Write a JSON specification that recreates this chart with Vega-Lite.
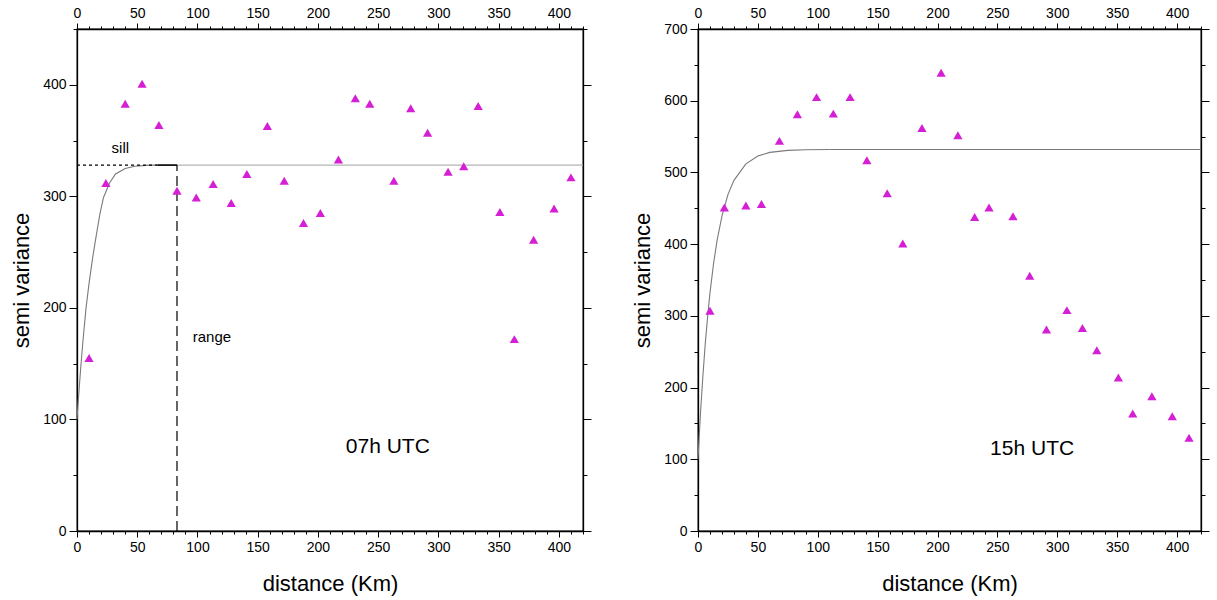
{
  "$schema": "https://vega.github.io/schema/vega-lite/v6.json",
  "background": "white",
  "padding": {"left": 9, "top": 5, "right": 5, "bottom": 5},
  "bounds": "flush",
  "spacing": 115,
  "datasets": {
    "pts": [
      {"panel": "07h UTC", "distance": 10, "gamma": 155},
      {"panel": "07h UTC", "distance": 24, "gamma": 312},
      {"panel": "07h UTC", "distance": 40, "gamma": 383},
      {"panel": "07h UTC", "distance": 54, "gamma": 401},
      {"panel": "07h UTC", "distance": 68, "gamma": 364},
      {"panel": "07h UTC", "distance": 83, "gamma": 305},
      {"panel": "07h UTC", "distance": 99, "gamma": 299},
      {"panel": "07h UTC", "distance": 113, "gamma": 311},
      {"panel": "07h UTC", "distance": 128, "gamma": 294},
      {"panel": "07h UTC", "distance": 141, "gamma": 320},
      {"panel": "07h UTC", "distance": 158, "gamma": 363},
      {"panel": "07h UTC", "distance": 172, "gamma": 314},
      {"panel": "07h UTC", "distance": 188, "gamma": 276},
      {"panel": "07h UTC", "distance": 202, "gamma": 285},
      {"panel": "07h UTC", "distance": 217, "gamma": 333},
      {"panel": "07h UTC", "distance": 231, "gamma": 388},
      {"panel": "07h UTC", "distance": 243, "gamma": 383},
      {"panel": "07h UTC", "distance": 263, "gamma": 314},
      {"panel": "07h UTC", "distance": 277, "gamma": 379},
      {"panel": "07h UTC", "distance": 291, "gamma": 357},
      {"panel": "07h UTC", "distance": 308, "gamma": 322},
      {"panel": "07h UTC", "distance": 321, "gamma": 327},
      {"panel": "07h UTC", "distance": 333, "gamma": 381},
      {"panel": "07h UTC", "distance": 351, "gamma": 286},
      {"panel": "07h UTC", "distance": 363, "gamma": 172},
      {"panel": "07h UTC", "distance": 379, "gamma": 261},
      {"panel": "07h UTC", "distance": 396, "gamma": 289},
      {"panel": "07h UTC", "distance": 410, "gamma": 317},
      {"panel": "15h UTC", "distance": 10, "gamma": 307},
      {"panel": "15h UTC", "distance": 22, "gamma": 451},
      {"panel": "15h UTC", "distance": 40, "gamma": 454},
      {"panel": "15h UTC", "distance": 53, "gamma": 456},
      {"panel": "15h UTC", "distance": 68, "gamma": 544},
      {"panel": "15h UTC", "distance": 83, "gamma": 581},
      {"panel": "15h UTC", "distance": 99, "gamma": 605},
      {"panel": "15h UTC", "distance": 113, "gamma": 582},
      {"panel": "15h UTC", "distance": 127, "gamma": 605},
      {"panel": "15h UTC", "distance": 141, "gamma": 517},
      {"panel": "15h UTC", "distance": 158, "gamma": 471},
      {"panel": "15h UTC", "distance": 171, "gamma": 401},
      {"panel": "15h UTC", "distance": 187, "gamma": 562},
      {"panel": "15h UTC", "distance": 203, "gamma": 639},
      {"panel": "15h UTC", "distance": 217, "gamma": 552},
      {"panel": "15h UTC", "distance": 231, "gamma": 438},
      {"panel": "15h UTC", "distance": 243, "gamma": 451},
      {"panel": "15h UTC", "distance": 263, "gamma": 439},
      {"panel": "15h UTC", "distance": 277, "gamma": 356},
      {"panel": "15h UTC", "distance": 291, "gamma": 281},
      {"panel": "15h UTC", "distance": 308, "gamma": 308},
      {"panel": "15h UTC", "distance": 321, "gamma": 283},
      {"panel": "15h UTC", "distance": 333, "gamma": 252},
      {"panel": "15h UTC", "distance": 351, "gamma": 214},
      {"panel": "15h UTC", "distance": 363, "gamma": 164},
      {"panel": "15h UTC", "distance": 379, "gamma": 188},
      {"panel": "15h UTC", "distance": 396, "gamma": 160},
      {"panel": "15h UTC", "distance": 410, "gamma": 130}
    ],
    "curve": [
      {"panel": "07h UTC", "part": "rise", "distance": 0, "gamma": 100},
      {"panel": "07h UTC", "part": "rise", "distance": 1, "gamma": 116},
      {"panel": "07h UTC", "part": "rise", "distance": 3, "gamma": 145},
      {"panel": "07h UTC", "part": "rise", "distance": 5, "gamma": 171},
      {"panel": "07h UTC", "part": "rise", "distance": 7.5, "gamma": 200},
      {"panel": "07h UTC", "part": "rise", "distance": 10, "gamma": 222},
      {"panel": "07h UTC", "part": "rise", "distance": 13, "gamma": 245},
      {"panel": "07h UTC", "part": "rise", "distance": 16, "gamma": 265},
      {"panel": "07h UTC", "part": "rise", "distance": 19, "gamma": 284},
      {"panel": "07h UTC", "part": "rise", "distance": 22, "gamma": 299},
      {"panel": "07h UTC", "part": "rise", "distance": 27, "gamma": 312},
      {"panel": "07h UTC", "part": "rise", "distance": 32, "gamma": 320},
      {"panel": "07h UTC", "part": "rise", "distance": 40, "gamma": 325},
      {"panel": "07h UTC", "part": "rise", "distance": 48, "gamma": 327},
      {"panel": "07h UTC", "part": "rise", "distance": 60, "gamma": 328},
      {"panel": "07h UTC", "part": "rise", "distance": 83, "gamma": 328},
      {"panel": "07h UTC", "part": "flat", "distance": 83, "gamma": 328},
      {"panel": "07h UTC", "part": "flat", "distance": 420, "gamma": 328},
      {"panel": "15h UTC", "part": "rise", "distance": 0, "gamma": 100},
      {"panel": "15h UTC", "part": "rise", "distance": 2, "gamma": 162},
      {"panel": "15h UTC", "part": "rise", "distance": 4, "gamma": 214},
      {"panel": "15h UTC", "part": "rise", "distance": 6, "gamma": 260},
      {"panel": "15h UTC", "part": "rise", "distance": 8, "gamma": 298},
      {"panel": "15h UTC", "part": "rise", "distance": 10, "gamma": 332},
      {"panel": "15h UTC", "part": "rise", "distance": 13, "gamma": 373},
      {"panel": "15h UTC", "part": "rise", "distance": 16, "gamma": 406},
      {"panel": "15h UTC", "part": "rise", "distance": 20, "gamma": 439},
      {"panel": "15h UTC", "part": "rise", "distance": 25, "gamma": 469},
      {"panel": "15h UTC", "part": "rise", "distance": 30, "gamma": 489},
      {"panel": "15h UTC", "part": "rise", "distance": 40, "gamma": 512},
      {"panel": "15h UTC", "part": "rise", "distance": 50, "gamma": 523},
      {"panel": "15h UTC", "part": "rise", "distance": 60, "gamma": 528},
      {"panel": "15h UTC", "part": "rise", "distance": 75, "gamma": 530.7},
      {"panel": "15h UTC", "part": "rise", "distance": 90, "gamma": 531.6},
      {"panel": "15h UTC", "part": "rise", "distance": 110, "gamma": 532},
      {"panel": "15h UTC", "part": "flat", "distance": 110, "gamma": 532},
      {"panel": "15h UTC", "part": "flat", "distance": 420, "gamma": 532}
    ],
    "guides": [
      {"panel": "07h UTC", "kind": "sill", "x1": 0, "x2": 67, "y1": 328, "y2": 328},
      {"panel": "07h UTC", "kind": "sillend", "x1": 67, "x2": 83, "y1": 328, "y2": 328},
      {"panel": "07h UTC", "kind": "range", "x1": 83, "x2": 83, "y1": 0, "y2": 328}
    ],
    "labels": [
      {"panel": "07h UTC", "kind": "note", "text": "sill", "distance": 36, "gamma": 343},
      {"panel": "07h UTC", "kind": "note", "text": "range", "distance": 112, "gamma": 174},
      {"panel": "07h UTC", "kind": "title", "text": "07h UTC", "distance": 258, "gamma": 75},
      {"panel": "15h UTC", "kind": "title", "text": "15h UTC", "distance": 279, "gamma": 114}
    ]
  },
  "config": {
    "font": "Liberation Sans",
    "view": {"stroke": "#000", "strokeWidth": 1.3},
    "axis": {
      "grid": false,
      "domainColor": "#000",
      "domainWidth": 1.3,
      "tickColor": "#000",
      "tickWidth": 1,
      "tickSize": 6,
      "labelFont": "Liberation Sans",
      "labelFontSize": 14,
      "labelColor": "#000",
      "labelPadding": 3,
      "labelFlush": false,
      "labelOverlap": false,
      "titleFont": "Liberation Sans",
      "titleFontSize": 22,
      "titleFontWeight": "normal",
      "titleColor": "#000"
    },
    "axisY": {"tickSize": 8}
  },
  "hconcat": [
    {
      "width": 506,
      "height": 502,
      "resolve": {"axis": {"x": "independent", "y": "independent"}},
      "layer": [
        {
          "data": {"name": "curve"},
          "transform": [{"filter": "datum.panel === '07h UTC' && datum.part === 'rise'"}],
          "mark": {"type": "line", "color": "#7a7a7a", "strokeWidth": 1.1},
          "encoding": {
            "x": {"field": "distance", "type": "quantitative", "scale": {"domain": [0, 420], "nice": false}, "axis": {"orient": "top", "title": null, "values": [0, 50, 100, 150, 200, 250, 300, 350, 400]}},
            "y": {"field": "gamma", "type": "quantitative", "scale": {"domain": [0, 450], "nice": false}, "axis": {"orient": "right", "title": null, "labels": false, "values": [0, 100, 200, 300, 400]}}
          }
        },
        {
          "data": {"name": "curve"},
          "transform": [{"filter": "datum.panel === '07h UTC' && datum.part === 'flat'"}],
          "mark": {"type": "line", "color": "#b4b4b4", "strokeWidth": 1.1},
          "encoding": {
            "x": {"field": "distance", "type": "quantitative", "scale": {"domain": [0, 420], "nice": false}, "axis": {"orient": "top", "title": null, "labels": false, "domain": false, "tickSize": 3, "values": [10, 20, 30, 40, 60, 70, 80, 90, 110, 120, 130, 140, 160, 170, 180, 190, 210, 220, 230, 240, 260, 270, 280, 290, 310, 320, 330, 340, 360, 370, 380, 390, 410, 420]}},
            "y": {"field": "gamma", "type": "quantitative", "scale": {"domain": [0, 450], "nice": false}, "axis": {"orient": "right", "title": null, "labels": false, "domain": false, "tickSize": 4, "values": [50, 150, 250, 350, 450]}}
          }
        },
        {
          "data": {"name": "guides"},
          "transform": [{"filter": "datum.kind === 'sill'"}],
          "mark": {"type": "rule", "color": "#000", "strokeWidth": 1.2, "strokeDash": [3, 3]},
          "encoding": {
            "x": {"field": "x1", "type": "quantitative", "scale": {"domain": [0, 420], "nice": false}, "axis": {"orient": "bottom", "title": null, "labels": false, "domain": false, "tickSize": 3, "values": [10, 20, 30, 40, 60, 70, 80, 90, 110, 120, 130, 140, 160, 170, 180, 190, 210, 220, 230, 240, 260, 270, 280, 290, 310, 320, 330, 340, 360, 370, 380, 390, 410, 420]}},
            "x2": {"field": "x2"},
            "y": {"field": "y1", "type": "quantitative", "scale": {"domain": [0, 450], "nice": false}, "axis": {"orient": "left", "title": null, "labels": false, "domain": false, "tickSize": 4, "values": [50, 150, 250, 350, 450]}},
            "y2": {"field": "y2"}
          }
        },
        {
          "data": {"name": "guides"},
          "transform": [{"filter": "datum.kind === 'sillend'"}],
          "mark": {"type": "rule", "color": "#000", "strokeWidth": 1.5},
          "encoding": {
            "x": {"field": "x1", "type": "quantitative", "scale": {"domain": [0, 420], "nice": false}, "axis": null},
            "x2": {"field": "x2"},
            "y": {"field": "y1", "type": "quantitative", "scale": {"domain": [0, 450], "nice": false}, "axis": null},
            "y2": {"field": "y2"}
          }
        },
        {
          "data": {"name": "guides"},
          "transform": [{"filter": "datum.kind === 'range'"}],
          "mark": {"type": "rule", "color": "#000", "strokeWidth": 1.2, "strokeDash": [10, 5]},
          "encoding": {
            "x": {"field": "x1", "type": "quantitative", "scale": {"domain": [0, 420], "nice": false}, "axis": null},
            "x2": {"field": "x2"},
            "y": {"field": "y1", "type": "quantitative", "scale": {"domain": [0, 450], "nice": false}, "axis": null},
            "y2": {"field": "y2"}
          }
        },
        {
          "data": {"name": "pts"},
          "transform": [{"filter": "datum.panel === '07h UTC'"}],
          "mark": {"type": "point", "shape": "triangle-up", "filled": true, "color": "#d41fd4", "opacity": 1, "size": 85},
          "encoding": {
            "x": {"field": "distance", "type": "quantitative", "scale": {"domain": [0, 420], "nice": false}, "axis": {"orient": "bottom", "title": "distance (Km)", "titlePadding": 19, "values": [0, 50, 100, 150, 200, 250, 300, 350, 400]}},
            "y": {"field": "gamma", "type": "quantitative", "scale": {"domain": [0, 450], "nice": false}, "axis": {"orient": "left", "title": "semi variance", "titlePadding": 9, "values": [0, 100, 200, 300, 400]}}
          }
        },
        {
          "data": {"name": "labels"},
          "transform": [{"filter": "datum.panel === '07h UTC' && datum.kind === 'note'"}],
          "mark": {"type": "text", "fontSize": 15, "color": "#000", "align": "center", "baseline": "middle"},
          "encoding": {
            "x": {"field": "distance", "type": "quantitative", "scale": {"domain": [0, 420], "nice": false}, "axis": null},
            "y": {"field": "gamma", "type": "quantitative", "scale": {"domain": [0, 450], "nice": false}, "axis": null},
            "text": {"field": "text"}
          }
        },
        {
          "data": {"name": "labels"},
          "transform": [{"filter": "datum.panel === '07h UTC' && datum.kind === 'title'"}],
          "mark": {"type": "text", "fontSize": 21, "color": "#000", "align": "center", "baseline": "middle"},
          "encoding": {
            "x": {"field": "distance", "type": "quantitative", "scale": {"domain": [0, 420], "nice": false}, "axis": null},
            "y": {"field": "gamma", "type": "quantitative", "scale": {"domain": [0, 450], "nice": false}, "axis": null},
            "text": {"field": "text"}
          }
        }
      ]
    },
    {
      "width": 503,
      "height": 502,
      "resolve": {"axis": {"x": "independent", "y": "independent"}},
      "layer": [
        {
          "data": {"name": "curve"},
          "transform": [{"filter": "datum.panel === '15h UTC' && datum.part === 'rise'"}],
          "mark": {"type": "line", "color": "#7a7a7a", "strokeWidth": 1.1},
          "encoding": {
            "x": {"field": "distance", "type": "quantitative", "scale": {"domain": [0, 420], "nice": false}, "axis": {"orient": "top", "title": null, "values": [0, 50, 100, 150, 200, 250, 300, 350, 400]}},
            "y": {"field": "gamma", "type": "quantitative", "scale": {"domain": [0, 700], "nice": false}, "axis": {"orient": "right", "title": null, "labels": false, "values": [0, 100, 200, 300, 400, 500, 600, 700]}}
          }
        },
        {
          "data": {"name": "curve"},
          "transform": [{"filter": "datum.panel === '15h UTC' && datum.part === 'flat'"}],
          "mark": {"type": "line", "color": "#7a7a7a", "strokeWidth": 1.1},
          "encoding": {
            "x": {"field": "distance", "type": "quantitative", "scale": {"domain": [0, 420], "nice": false}, "axis": {"orient": "top", "title": null, "labels": false, "domain": false, "tickSize": 3, "values": [10, 20, 30, 40, 60, 70, 80, 90, 110, 120, 130, 140, 160, 170, 180, 190, 210, 220, 230, 240, 260, 270, 280, 290, 310, 320, 330, 340, 360, 370, 380, 390, 410, 420]}},
            "y": {"field": "gamma", "type": "quantitative", "scale": {"domain": [0, 700], "nice": false}, "axis": {"orient": "right", "title": null, "labels": false, "domain": false, "tickSize": 4, "values": [50, 150, 250, 350, 450, 550, 650]}}
          }
        },
        {
          "data": {"name": "labels"},
          "transform": [{"filter": "datum.panel === '15h UTC'"}],
          "mark": {"type": "text", "fontSize": 21, "color": "#000", "align": "center", "baseline": "middle"},
          "encoding": {
            "x": {"field": "distance", "type": "quantitative", "scale": {"domain": [0, 420], "nice": false}, "axis": {"orient": "bottom", "title": null, "labels": false, "domain": false, "tickSize": 3, "values": [10, 20, 30, 40, 60, 70, 80, 90, 110, 120, 130, 140, 160, 170, 180, 190, 210, 220, 230, 240, 260, 270, 280, 290, 310, 320, 330, 340, 360, 370, 380, 390, 410, 420]}},
            "y": {"field": "gamma", "type": "quantitative", "scale": {"domain": [0, 700], "nice": false}, "axis": {"orient": "left", "title": null, "labels": false, "domain": false, "tickSize": 4, "values": [50, 150, 250, 350, 450, 550, 650]}},
            "text": {"field": "text"}
          }
        },
        {
          "data": {"name": "pts"},
          "transform": [{"filter": "datum.panel === '15h UTC'"}],
          "mark": {"type": "point", "shape": "triangle-up", "filled": true, "color": "#d41fd4", "opacity": 1, "size": 85},
          "encoding": {
            "x": {"field": "distance", "type": "quantitative", "scale": {"domain": [0, 420], "nice": false}, "axis": {"orient": "bottom", "title": "distance (Km)", "titlePadding": 19, "values": [0, 50, 100, 150, 200, 250, 300, 350, 400]}},
            "y": {"field": "gamma", "type": "quantitative", "scale": {"domain": [0, 700], "nice": false}, "axis": {"orient": "left", "title": "semi variance", "titlePadding": 9, "values": [0, 100, 200, 300, 400, 500, 600, 700]}}
          }
        }
      ]
    }
  ]
}
